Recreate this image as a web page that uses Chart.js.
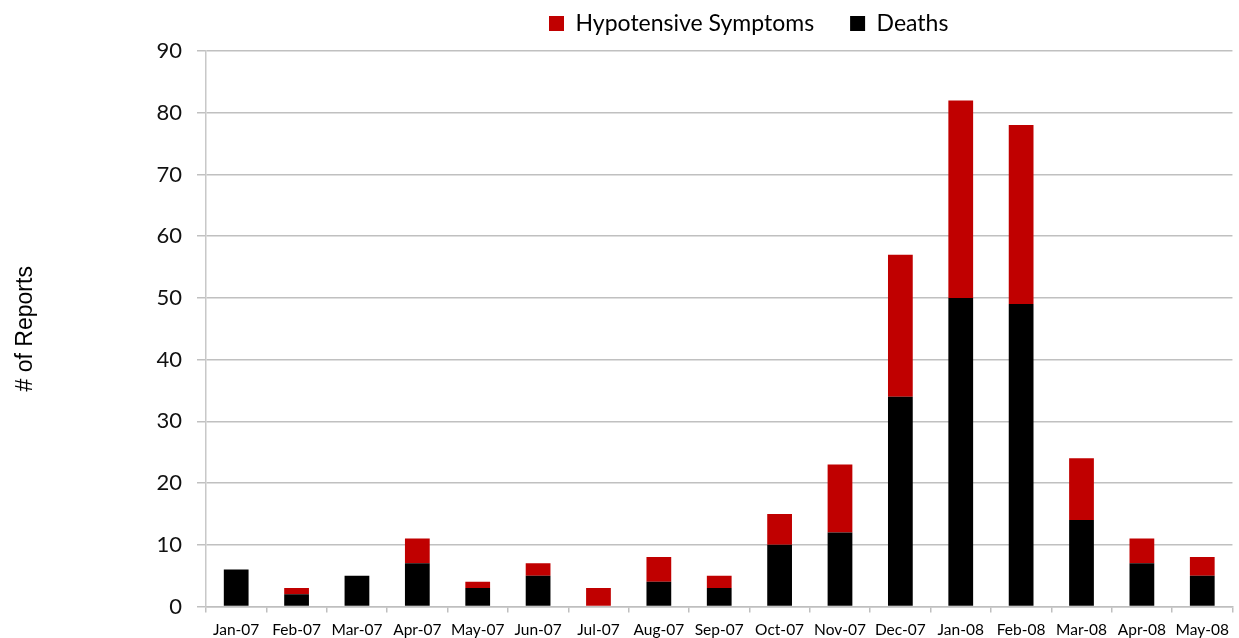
<!DOCTYPE html>
<html>
<head>
<meta charset="utf-8">
<script src="https://cdn.jsdelivr.net/npm/chart.js@4/dist/chart.umd.min.js"></script>
<style>
  html, body { margin: 0; padding: 0; background: #fff; }
  #wrap { width: 1239px; height: 638px; position: relative; }
</style>
</head>
<body>
<div id="wrap"><canvas id="c" width="1239" height="638"></canvas></div>
<script>
const categories = ["Jan-07","Feb-07","Mar-07","Apr-07","May-07","Jun-07","Jul-07","Aug-07","Sep-07","Oct-07","Nov-07","Dec-07","Jan-08","Feb-08","Mar-08","Apr-08","May-08"];
const deaths      = [6, 2, 5, 7, 3, 5, 0, 4, 3, 10, 12, 34, 50, 49, 14, 7, 5];
const hypotensive = [0, 1, 0, 4, 1, 2, 3, 4, 2, 5, 11, 23, 32, 29, 10, 4, 3];
const yTicks = [0, 10, 20, 30, 40, 50, 60, 70, 80, 90];

const LEGEND_PAD = 36;
const legendShift = {
  id: 'legendShift',
  afterLayout(chart) {
    const lg = chart.legend;
    if (!lg || !lg.lineWidths) return;
    const LW = lg.lineWidths[0];
    const firstX = 549;
    const right = 1239 + 300;
    const left = 2 * firstX - LEGEND_PAD - right + LW;
    lg.left = left;
    lg.right = right;
    lg.width = right - left;
    lg.top = -24;
    lg.bottom = 48;
    lg.height = lg.bottom - lg.top;
  }
};

new Chart(document.getElementById('c'), {
  type: 'bar',
  data: {
    labels: categories,
    datasets: [
      { label: 'Deaths', data: deaths, backgroundColor: '#000000', stack: 's' },
      { label: 'Hypotensive Symptoms', data: hypotensive, backgroundColor: '#C00000', stack: 's' }
    ]
  },
  options: {
    responsive: false,
    animation: false,
    layout: { padding: { left: 12, right: 1, top: 0, bottom: -10 } },
    datasets: { bar: { categoryPercentage: 1, barPercentage: 0.41 } },
    plugins: {
      tooltip: { enabled: false },
      legend: {
        position: 'top',
        reverse: true,
        maxHeight: 51,
        labels: {
          boxWidth: 15, boxHeight: 15, padding: LEGEND_PAD,
          font: { family: 'Lato', size: 23 },
          color: '#000'
        }
      }
    },
    scales: {
      x: {
        stacked: true,
        grid: { offset: true, drawOnChartArea: false, drawTicks: true, tickLength: 6, color: '#bfbfbf', lineWidth: 1.5 },
        border: { color: '#bfbfbf', width: 1.5 },
        ticks: { maxRotation: 0, autoSkip: false, color: '#000', font: { family: 'Lato', size: 15.5, lineHeight: 1 }, padding: 10 }
      },
      y: {
        stacked: true,
        min: 0, max: 90,
        afterBuildTicks(scale) { scale.ticks = yTicks.map(v => ({ value: v })); },
        afterFit(scale) { scale.width = 194; },
        grid: { color: '#c0c0c0', lineWidth: 1.5, tickLength: 9, drawTicks: true },
        border: { color: '#c8c8c8', width: 1.5 },
        ticks: { color: '#111', font: { family: 'Lato', size: 22 }, padding: 15 },
        title: { display: true, text: '# of Reports', color: '#000', font: { family: 'Liberation Sans', size: 23 }, padding: 0 }
      }
    }
  },
  plugins: [legendShift]
});
</script>
</body>
</html>
